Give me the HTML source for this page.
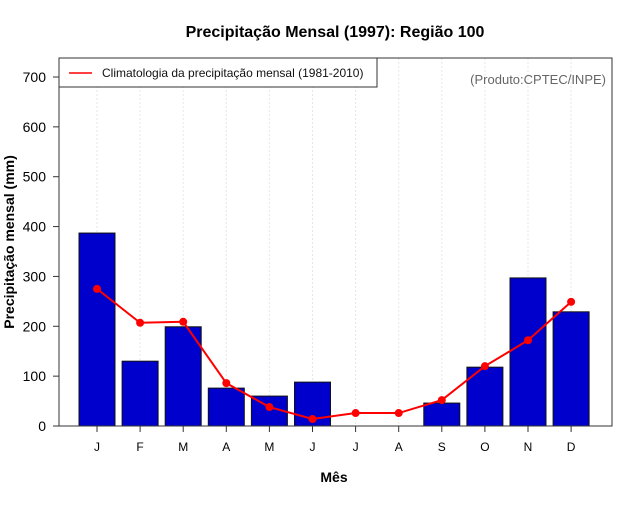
<!DOCTYPE html>
<html><head><meta charset="utf-8"><style>
body{margin:0;background:#fff;}
svg text{font-family:"Liberation Sans",sans-serif;}
</style></head><body>
<svg id="chart" width="640" height="500" xmlns="http://www.w3.org/2000/svg">
<text x="335" y="37" text-anchor="middle" font-size="16" font-weight="bold">Precipitação Mensal (1997): Região 100</text>
<text x="334" y="482" text-anchor="middle" font-size="14" font-weight="bold">Mês</text>
<text transform="translate(14,242) rotate(-90)" text-anchor="middle" font-size="14" font-weight="bold">Precipitação mensal (mm)</text>
<g id="grid"></g><g id="bars"></g><g id="line"></g><g id="axes"></g>
<rect x="59" y="58" width="553" height="368" fill="none" stroke="#333" stroke-width="1"/>
<g>
<rect x="59" y="58" width="318" height="29" fill="#fff" stroke="#333" stroke-width="1"/>
<line x1="69" y1="73" x2="92" y2="73" stroke="#f00" stroke-width="1.5"/>
<text x="102" y="77" font-size="12" fill="#111">Climatologia da precipitação mensal (1981-2010)</text>
</g>
<text x="606" y="84" text-anchor="end" font-size="13" fill="#666">(Produto:CPTEC/INPE)</text>
</svg>
<script>
const months=["J","F","M","A","M","J","J","A","S","O","N","D"];
const precip1997=[387,130,199,76,60,88,0,0,46,118,297,229];
const climatology=[275,207,209,86,38,14,26,26,52,120,172,249];
const yTicks=[0,100,200,300,400,500,600,700];
const NS="http://www.w3.org/2000/svg";
const x=i=>97+i*43.1;
const y=v=>426-v*(349/700);
function mk(tag,attrs,parent,text){const e=document.createElementNS(NS,tag);for(const k in attrs)e.setAttribute(k,attrs[k]);if(text!==undefined)e.textContent=text;document.getElementById(parent).appendChild(e);return e;}
months.forEach((m,i)=>{
 const g=mk("line",{x1:x(i),x2:x(i),y1:58,y2:426,stroke:"#e6e6e6","stroke-dasharray":"2,2"},"grid");
 
 
 if(precip1997[i]>0){
 const b=mk("rect",{x:x(i)-18,y:y(precip1997[i]),width:36,height:426-y(precip1997[i]),fill:"#0000cc",stroke:"#111","stroke-width":1},"bars");
 
 
 }
 const t=mk("line",{x1:x(i),x2:x(i),y1:426,y2:432,stroke:"#333"},"axes");
 
 
 const l=mk("text",{x:x(i),y:451,"text-anchor":"middle","font-size":12},"axes",m);
 
 
});
const pts=climatology.map((v,i)=>x(i)+","+y(v)).join(" ");
const pl=mk("polyline",{points:pts,fill:"none",stroke:"#f00","stroke-width":2},"line");


climatology.forEach((v,i)=>{
 const c=mk("circle",{cx:x(i),cy:y(v),r:4,fill:"#f00"},"line");
 
 
});
yTicks.forEach(v=>{
 const t=mk("line",{x1:53,x2:59,y1:y(v),y2:y(v),stroke:"#333"},"axes");
 
 
 const l=mk("text",{x:46,y:y(v)+5,"text-anchor":"end","font-size":14},"axes",v);
 
 
});
</script>
</body></html>
